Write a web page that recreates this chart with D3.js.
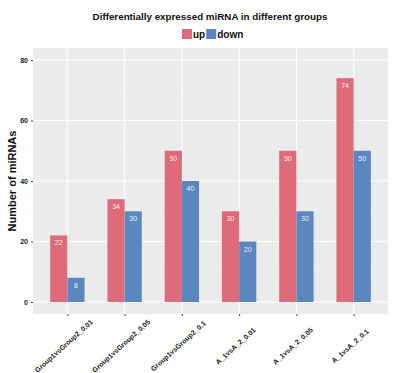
<!DOCTYPE html>
<html>
<head>
<meta charset="utf-8">
<script src="https://cdn.jsdelivr.net/npm/d3@7"></script>
<style>
  body { margin: 0; background: #fff; }
  svg { font-family: "Liberation Sans", Arial, sans-serif; }
</style>
</head>
<body>
<svg id="chart" width="400" height="373"></svg>
<script>
const categories = ['Group1vsGroup2_0.01', 'Group1vsGroup2_0.05', 'Group1vsGroup2_0.1',
  'A_1vsA_2_0.01', 'A_1vsA_2_0.05', 'A_1vsA_2_0.1'];
const upValues = [22, 34, 50, 30, 50, 74];
const downValues = [8, 30, 40, 20, 30, 50];
const seriesNames = ['up', 'down'];
const yTicks = [0, 20, 40, 60, 80];
const yMinor = [10, 30, 50, 70];

const colors = { up: '#de6b7a', down: '#5b87c0' };

const svg = d3.select('#chart');
const panel = { left: 33, top: 48, right: 388, bottom: 314 };

// ggplot-like discrete expansion: 0.6 units each side
const step = (panel.right - panel.left) / (categories.length - 1 + 1.2);
const x = d3.scalePoint()
  .domain(categories)
  .range([panel.left + 0.6 * step, panel.right - 0.6 * step]);

const y = d3.scaleLinear().domain([0, 80]).range([302, 60]);

// panel background
svg.append('rect')
  .attr('x', panel.left).attr('y', panel.top)
  .attr('width', panel.right - panel.left).attr('height', panel.bottom - panel.top)
  .attr('fill', '#ebebeb');

// grid lines
svg.append('g').selectAll('line.minor')
  .data(yMinor).enter().append('line')
  .attr('x1', panel.left).attr('x2', panel.right)
  .attr('y1', d => y(d)).attr('y2', d => y(d))
  .attr('stroke', '#f5f5f5').attr('stroke-width', 0.6);

svg.append('g').selectAll('line.major')
  .data(yTicks).enter().append('line')
  .attr('x1', panel.left).attr('x2', panel.right)
  .attr('y1', d => y(d)).attr('y2', d => y(d))
  .attr('stroke', '#fff').attr('stroke-width', 1.1);

svg.append('g').selectAll('line.vgrid')
  .data(categories).enter().append('line')
  .attr('x1', d => x(d)).attr('x2', d => x(d))
  .attr('y1', panel.top).attr('y2', panel.bottom)
  .attr('stroke', '#fff').attr('stroke-width', 1.1);

// bars
const barW = step * 0.3;
const data = categories.map((c, i) => ({ cat: c, up: upValues[i], down: downValues[i] }));

const groups = svg.append('g').selectAll('g')
  .data(data).enter().append('g');

seriesNames.forEach((s, si) => {
  groups.append('rect')
    .attr('x', d => x(d.cat) - barW + si * barW)
    .attr('y', d => y(d[s]))
    .attr('width', barW)
    .attr('height', d => y(0) - y(d[s]))
    .attr('fill', colors[s]);

  groups.append('text')
    .attr('x', d => x(d.cat) - barW / 2 + si * barW)
    .attr('y', d => y(d[s]) + 10)
    .attr('text-anchor', 'middle')
    .attr('fill', '#fff')
    .attr('fill-opacity', 0.9)
    .attr('font-size', '7px')
    .text(d => d[s]);
});

// y axis
const yAxis = svg.append('g')
  .attr('transform', `translate(${panel.left},0)`)
  .call(d3.axisLeft(y).tickValues(yTicks).tickSize(2).tickPadding(3));
yAxis.select('.domain').remove();
yAxis.selectAll('line').attr('stroke', '#444');
yAxis.selectAll('text')
  .attr('font-size', '7px').attr('font-weight', 'bold').attr('fill', '#222')
  .attr('font-family', '"Liberation Sans", Arial, sans-serif');

// x axis
const xAxis = svg.append('g')
  .attr('transform', `translate(0,${panel.bottom})`)
  .call(d3.axisBottom(x).tickSize(2).tickPadding(3));
xAxis.select('.domain').remove();
xAxis.selectAll('line').attr('stroke', '#444');
xAxis.selectAll('text')
  .attr('font-size', '7px').attr('font-weight', 'bold').attr('fill', '#222')
  .attr('font-family', '"Liberation Sans", Arial, sans-serif')
  .attr('text-anchor', 'middle')
  .attr('y', 0).attr('dy', '0.35em')
  .attr('transform', 'translate(-4,32) rotate(-42)');

// y title
svg.append('text')
  .attr('transform', `translate(16,${(60 + 302) / 2}) rotate(-90)`)
  .attr('text-anchor', 'middle')
  .attr('font-size', '11px').attr('font-weight', 'bold').attr('fill', '#111')
  .text('Number of miRNAs');

// title
svg.append('text')
  .attr('x', 210).attr('y', 20)
  .attr('text-anchor', 'middle')
  .attr('font-size', '9.8px').attr('font-weight', 'bold').attr('fill', '#111')
  .text('Differentially expressed miRNA in different groups');

// legend
const legend = svg.append('g').attr('transform', 'translate(182,29)');
let lx = 0;
seriesNames.forEach(s => {
  legend.append('rect').attr('x', lx).attr('y', 0).attr('width', 10).attr('height', 10)
    .attr('fill', colors[s]);
  const t = legend.append('text').attr('x', lx + 11).attr('y', 9)
    .attr('font-size', '10px').attr('font-weight', 'bold').attr('fill', '#111')
    .text(s);
  lx += 11 + t.node().getComputedTextLength() + 1;
});
</script>
</body>
</html>
